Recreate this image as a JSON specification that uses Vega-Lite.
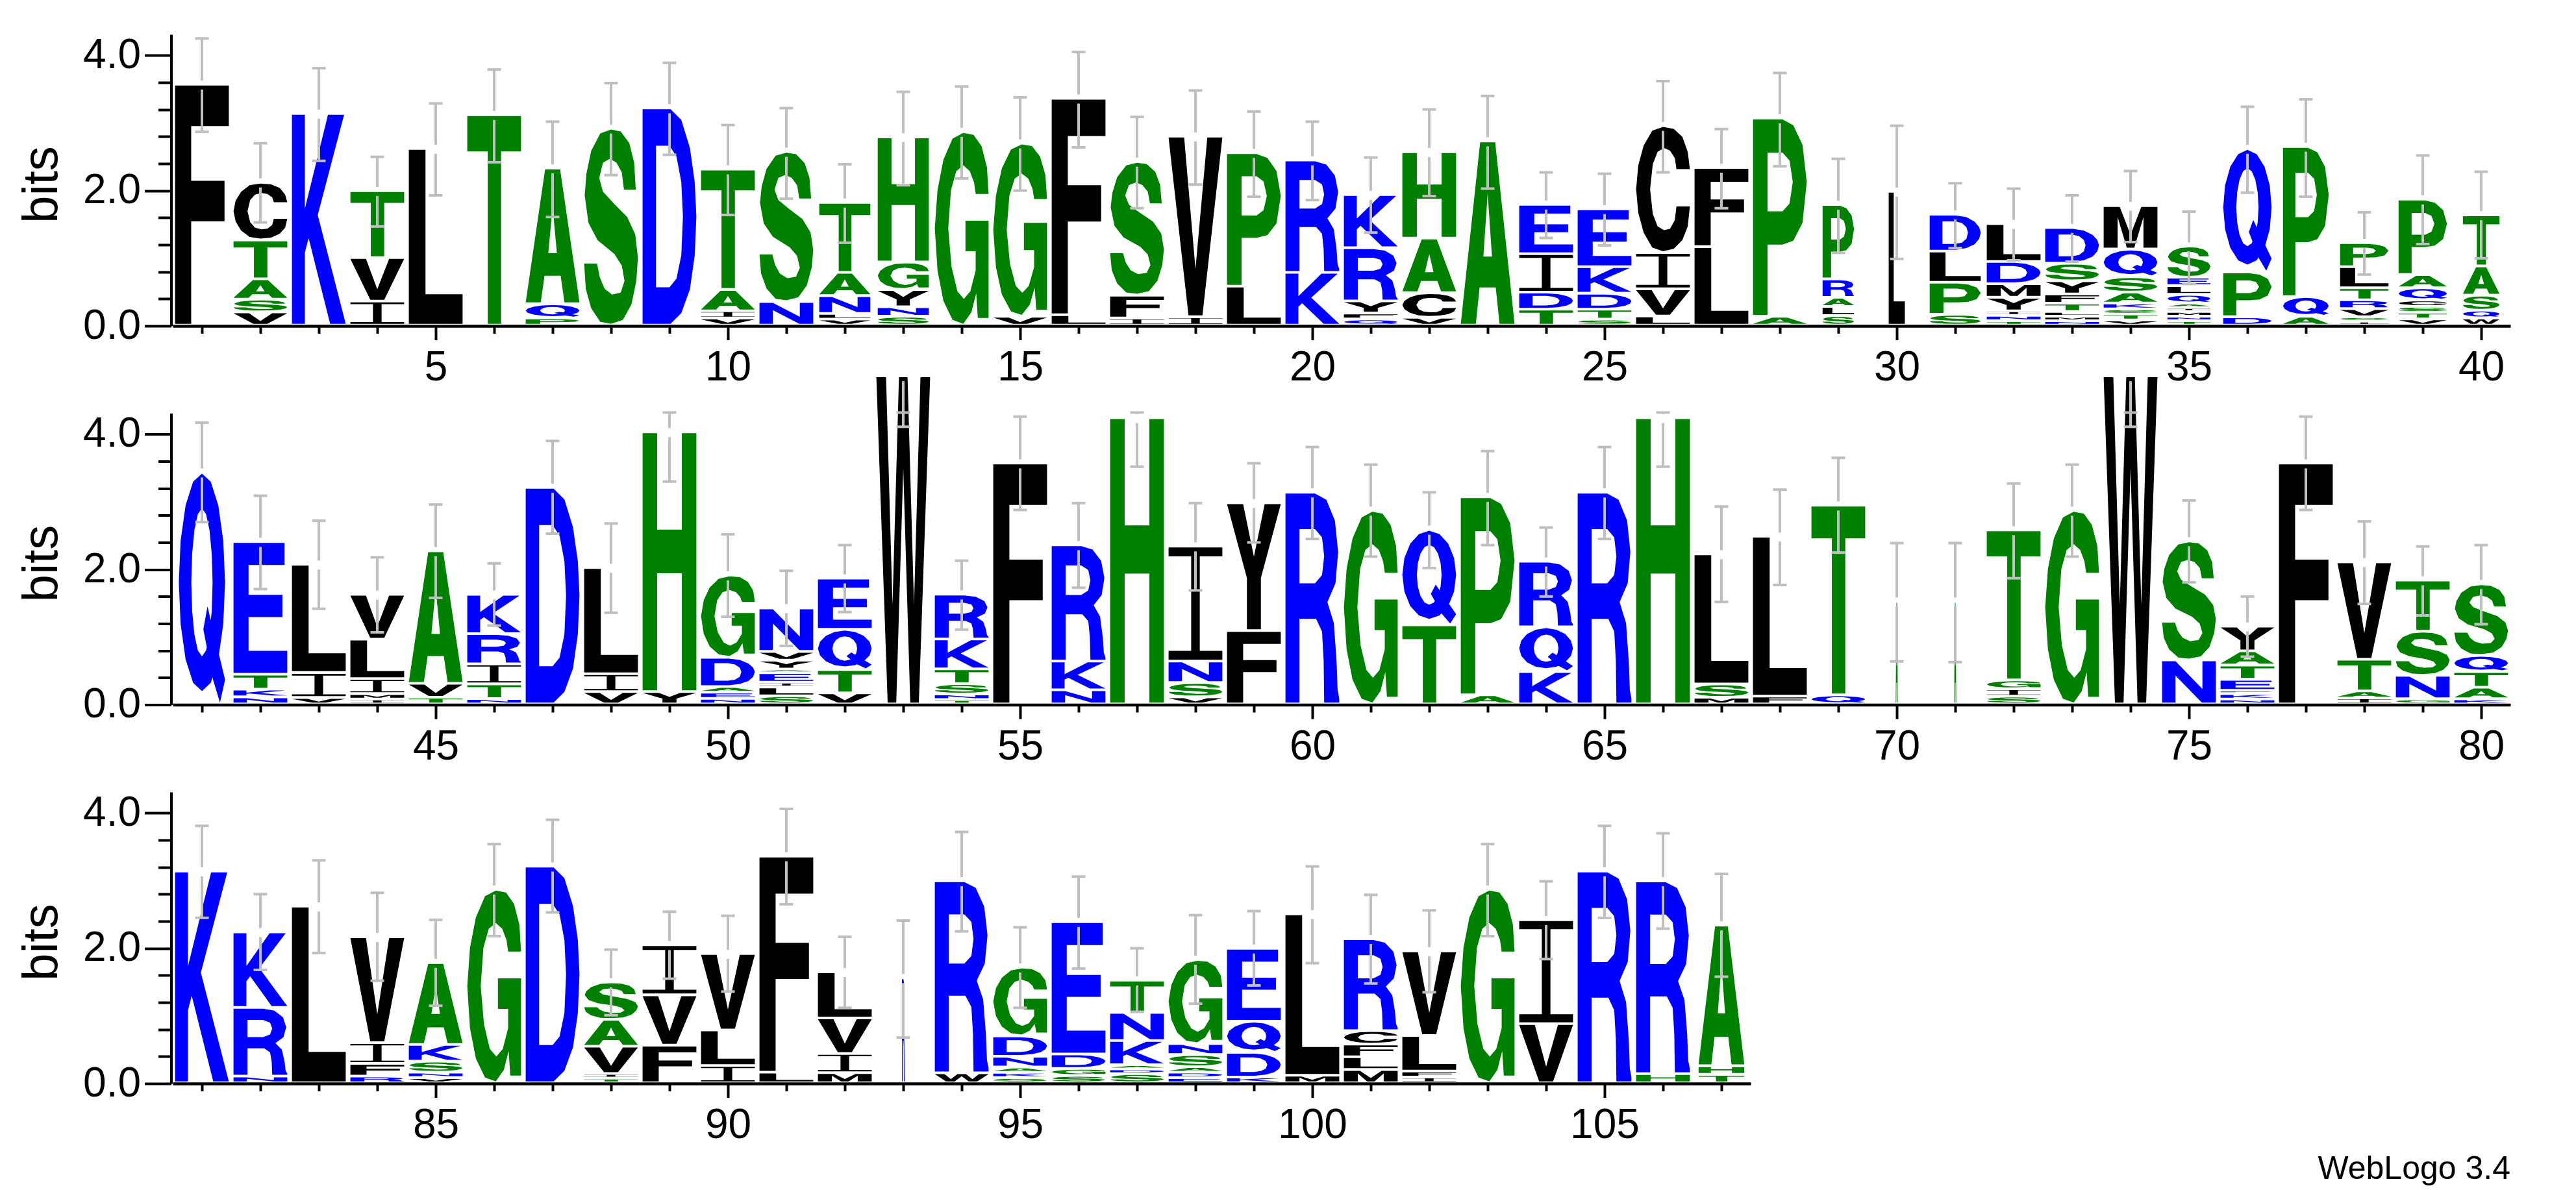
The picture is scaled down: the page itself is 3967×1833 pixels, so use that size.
{"$schema":"https://vega.github.io/schema/vega-lite/v6.json","background":"white","padding":{"left":26,"top":53,"right":10,"bottom":10},"config":{"font":"Liberation Sans","view":{"stroke":null},"axis":{"labelFont":"Liberation Sans","titleFont":"Liberation Sans"}},"title":{"text":"WebLogo 3.4","orient":"bottom","anchor":"end","font":"Liberation Sans","fontSize":50,"fontWeight":"normal","offset":10},"datasets":{"glyphs":[
{"l":"F","gx":[0,0,1,1,0.3,0.3,0.92,0.92,0.3,0.3],"gy":[0,1,1,0.83,0.83,0.6,0.6,0.43,0.43,0]},
{"l":"L","gx":[0,0,0.31,0.31,1,1],"gy":[0,1,1,0.17,0.17,0]},
{"l":"T","gx":[0,1,1,0.63,0.63,0.38,0.38,0],"gy":[1,1,0.83,0.83,0,0,0.83,0.83]},
{"l":"E","gx":[0,0,0.95,0.95,0.28,0.28,0.91,0.91,0.28,0.28,1,1],"gy":[0,1,1,0.83,0.83,0.6,0.6,0.43,0.43,0.17,0.17,0]},
{"l":"H","gx":[0,0,0.27,0.27,0.73,0.73,1,1,0.73,0.73,0.27,0.27],"gy":[0,1,1,0.625,0.625,1,1,0,0,0.455,0.455,0]},
{"l":"I","gx":[0,1,1,0.58,0.58,1,1,0,0,0.42,0.42,0],"gy":[1,1,0.92,0.92,0.08,0.08,0,0,0.08,0.08,0.92,0.92]},
{"l":"K","gx":[0,0,0.24,0.24,0.67,0.97,0.48,1,0.71,0.31,0.24,0.24],"gy":[0,1,1,0.55,1,1,0.52,0,0,0.41,0.34,0]},
{"l":"V","gx":[0,0.29,0.5,0.72,1,0.63,0.37],"gy":[1,1,0.26,1,1,0,0]},
{"l":"A","gx":[0,0.36,0.64,1,0.72,0.65,0.35,0.28,0,0.42,0.58,0.5,0.42,0],"gy":[0,1,1,0,0,0.2,0.2,0,0,0.37,0.37,0.72,0.37,0]},
{"l":"M","gx":[0,0,0.3,0.5,0.7,1,1,0.74,0.74,0.57,0.43,0.26,0.26],"gy":[0,1,1,0.32,1,1,0,0,0.75,0,0,0.75,0]},
{"l":"N","gx":[0,0,0.25,0.75,0.75,1,1,0.74,0.25,0.25],"gy":[0,1,1,0.33,1,1,0,0,0.65,0]},
{"l":"W","gx":[0.21,0,0.18,0.3,0.42,0.58,0.7,0.82,1,0.79,0.63,0.5,0.37],"gy":[0,1,1,0.3,1,1,0.3,1,1,0,0,0.72,0]},
{"l":"Y","gx":[0,0.3,0.5,0.7,1,0.63,0.63,0.37,0.37],"gy":[1,1,0.58,1,1,0.41,0,0,0.41]},
{"l":"Q","gx":[0.5,0.691,0.854,0.962,1,0.962,0.854,0.691,0.5,0.309,0.146,0.038,0,0.038,0.146,0.309,0.5,0.5,0.412,0.337,0.288,0.27,0.288,0.337,0.412,0.5,0.588,0.663,0.712,0.73,0.712,0.663,0.588,0.5,0.5,0.62,1,0.89,0.74,0.53,0.62,0.5],"gy":[1,0.964,0.861,0.706,0.525,0.344,0.189,0.086,0.05,0.086,0.189,0.344,0.525,0.706,0.861,0.964,1,0.848,0.823,0.753,0.649,0.525,0.4,0.297,0.227,0.202,0.227,0.297,0.4,0.525,0.649,0.753,0.823,0.848,1,0.42,0.1,0,0.1,0.32,0.42,1]},
{"l":"D","gx":[0,0,0.52,0.72,0.88,0.97,1,0.97,0.88,0.72,0.52,0,0.25,0.5,0.63,0.72,0.75,0.72,0.63,0.5,0.25,0.25,0],"gy":[0,1,1,0.95,0.82,0.66,0.5,0.32,0.16,0.05,0,0,0.17,0.17,0.21,0.32,0.5,0.66,0.78,0.83,0.83,0.17,0]},
{"l":"P","gx":[0,0,0.55,0.75,0.92,1,0.92,0.75,0.55,0.27,0.27,0,0.27,0.55,0.68,0.74,0.68,0.55,0.27,0.27,0],"gy":[0,1,1,0.97,0.87,0.68,0.47,0.38,0.36,0.36,0,0,0.53,0.53,0.57,0.68,0.79,0.83,0.83,0.53,0]},
{"l":"R","gx":[0,0,0.55,0.76,0.92,0.98,0.93,0.78,0.9,0.95,0.97,1,1,0.72,0.71,0.68,0.57,0.26,0.26,0,0.26,0.55,0.68,0.72,0.68,0.55,0.26,0.26,0],"gy":[0,1,1,0.97,0.87,0.72,0.57,0.48,0.38,0.2,0.06,0.02,0,0,0.2,0.34,0.4,0.4,0,0,0.57,0.57,0.61,0.7,0.79,0.83,0.83,0.57,0]},
{"l":"C","gx":[1,0.96,0.86,0.7,0.5,0.3,0.14,0.04,0,0.04,0.14,0.3,0.5,0.7,0.86,0.96,1,0.75,0.72,0.63,0.52,0.4,0.31,0.26,0.31,0.4,0.52,0.63,0.72,0.75],"gy":[0.66,0.8,0.92,0.985,1,0.97,0.85,0.69,0.5,0.31,0.15,0.03,0,0.02,0.09,0.2,0.36,0.36,0.25,0.18,0.17,0.2,0.3,0.5,0.7,0.8,0.83,0.81,0.75,0.66]},
{"l":"G","gx":[1,0.97,0.87,0.72,0.53,0.33,0.16,0.05,0,0.05,0.16,0.33,0.53,0.68,0.77,0.8,1,1,0.57,0.57,0.76,0.76,0.66,0.54,0.42,0.31,0.25,0.3,0.4,0.53,0.65,0.73,0.76],"gy":[0.68,0.82,0.93,0.99,1,0.97,0.86,0.7,0.5,0.28,0.12,0.02,0,0.06,0.16,0.03,0.03,0.54,0.54,0.38,0.38,0.28,0.17,0.13,0.17,0.3,0.5,0.7,0.8,0.83,0.8,0.74,0.68]},
{"l":"S","gx":[0.96,0.93,0.84,0.68,0.5,0.3,0.13,0.04,0.01,0.08,0.25,0.56,0.7,0.75,0.68,0.52,0.38,0.29,0.24,0,0.03,0.13,0.3,0.5,0.72,0.88,0.97,1,0.95,0.8,0.55,0.35,0.28,0.35,0.48,0.6,0.7,0.74],"gy":[0.69,0.83,0.93,0.99,1,0.98,0.89,0.77,0.66,0.52,0.43,0.36,0.3,0.22,0.16,0.15,0.18,0.24,0.31,0.31,0.18,0.08,0.01,0,0.02,0.1,0.22,0.34,0.46,0.55,0.62,0.68,0.75,0.83,0.85,0.83,0.78,0.69]}
],"cols":[
{"p":1,"w":1,"hi":4.25,"lo":2.87},{"p":2,"w":1,"hi":2.7,"lo":1.53},{"p":3,"w":1,"hi":3.81,"lo":2.44},{"p":4,"w":1,"hi":2.5,"lo":1.47},{"p":5,"w":1,"hi":3.29,"lo":1.93},{"p":6,"w":1,"hi":3.79,"lo":2.42},{"p":7,"w":1,"hi":3.02,"lo":1.61},{"p":8,"w":1,"hi":3.59,"lo":2.23},{"p":9,"w":1,"hi":3.89,"lo":2.53},{"p":10,"w":1,"hi":2.97,"lo":1.64},
{"p":11,"w":1,"hi":3.22,"lo":1.88},{"p":12,"w":0.95,"hi":2.39,"lo":1.23},{"p":13,"w":0.95,"hi":3.46,"lo":2.08},{"p":14,"w":1,"hi":3.54,"lo":2.18},{"p":15,"w":1,"hi":3.38,"lo":2},{"p":16,"w":1,"hi":4.05,"lo":2.64},{"p":17,"w":1,"hi":3.09,"lo":1.74},{"p":18,"w":1,"hi":3.48,"lo":2.09},{"p":19,"w":1,"hi":3.17,"lo":1.91},{"p":20,"w":1,"hi":3.02,"lo":1.86},
{"p":21,"w":1,"hi":2.49,"lo":1.38},{"p":22,"w":1,"hi":3.2,"lo":1.92},{"p":23,"w":1,"hi":3.4,"lo":2.03},{"p":24,"w":1,"hi":2.27,"lo":1.3},{"p":25,"w":1,"hi":2.25,"lo":1.19},{"p":26,"w":1,"hi":3.62,"lo":2.27},{"p":27,"w":1,"hi":2.91,"lo":1.74},{"p":28,"w":1,"hi":3.74,"lo":2.36},{"p":29,"w":0.585,"hi":2.47,"lo":1.08},{"p":30,"w":0.3,"hi":2.96,"lo":0.99},
{"p":31,"w":0.95,"hi":2.11,"lo":1.15},{"p":32,"w":1,"hi":2.03,"lo":0.97},{"p":33,"w":1,"hi":1.93,"lo":0.95},{"p":34,"w":1,"hi":2.29,"lo":1.24},{"p":35,"w":0.8,"hi":1.69,"lo":0.62},{"p":36,"w":0.9,"hi":3.24,"lo":1.97},{"p":37,"w":0.85,"hi":3.35,"lo":1.91},{"p":38,"w":0.9,"hi":1.68,"lo":0.76},{"p":39,"w":0.9,"hi":2.52,"lo":1.21},{"p":40,"w":0.68,"hi":2.28,"lo":1},
{"p":41,"w":0.86,"hi":4.17,"lo":2.7},{"p":42,"w":1,"hi":3.09,"lo":1.71},{"p":43,"w":1,"hi":2.72,"lo":1.42},{"p":44,"w":1,"hi":2.18,"lo":1.07},{"p":45,"w":1,"hi":2.96,"lo":1.58},{"p":46,"w":1,"hi":2.09,"lo":1.17},{"p":47,"w":1,"hi":3.9,"lo":2.53},{"p":48,"w":1,"hi":2.68,"lo":1.36},{"p":49,"w":1,"hi":4.32,"lo":3.3},{"p":50,"w":1,"hi":2.52,"lo":1.3},
{"p":51,"w":1,"hi":1.98,"lo":0.87},{"p":52,"w":1,"hi":2.36,"lo":1.37},{"p":53,"w":1,"hi":4.32,"lo":4.11},{"p":54,"w":1,"hi":2.13,"lo":1.11},{"p":55,"w":1,"hi":4.26,"lo":2.88},{"p":56,"w":1,"hi":2.98,"lo":1.73},{"p":57,"w":1,"hi":4.32,"lo":3.52},{"p":58,"w":1,"hi":2.98,"lo":1.69},{"p":59,"w":1,"hi":3.57,"lo":2.4},{"p":60,"w":1,"hi":3.81,"lo":2.45},
{"p":61,"w":1,"hi":3.55,"lo":2.19},{"p":62,"w":1,"hi":3.14,"lo":2.02},{"p":63,"w":1,"hi":3.75,"lo":2.36},{"p":64,"w":1,"hi":2.62,"lo":1.6},{"p":65,"w":1,"hi":3.81,"lo":2.45},{"p":66,"w":1,"hi":4.32,"lo":3.52},{"p":67,"w":1,"hi":2.93,"lo":1.52},{"p":68,"w":1,"hi":3.18,"lo":1.77},{"p":69,"w":1,"hi":3.65,"lo":2.25},{"p":70,"w":0.04,"hi":2.39,"lo":0.64},
{"p":71,"w":0.04,"hi":2.39,"lo":0.63},{"p":72,"w":1,"hi":3.27,"lo":1.87},{"p":73,"w":1,"hi":3.55,"lo":2.19},{"p":74,"w":1,"hi":4.32,"lo":4.11},{"p":75,"w":1,"hi":3.02,"lo":1.81},{"p":76,"w":1,"hi":1.6,"lo":0.71},{"p":77,"w":1,"hi":4.26,"lo":2.88},{"p":78,"w":1,"hi":2.71,"lo":1.49},{"p":79,"w":1,"hi":2.34,"lo":1.32},{"p":80,"w":1,"hi":2.36,"lo":1.19},
{"p":81,"w":1,"hi":3.81,"lo":2.45},{"p":82,"w":1,"hi":2.8,"lo":1.68},{"p":83,"w":1,"hi":3.3,"lo":1.93},{"p":84,"w":1,"hi":2.82,"lo":1.52},{"p":85,"w":1,"hi":2.42,"lo":1.15},{"p":86,"w":1,"hi":3.54,"lo":2.18},{"p":87,"w":1,"hi":3.9,"lo":2.53},{"p":88,"w":1,"hi":1.98,"lo":1.01},{"p":89,"w":1,"hi":2.54,"lo":1.55},{"p":90,"w":1,"hi":2.48,"lo":1.36},
{"p":91,"w":1,"hi":4.06,"lo":2.65},{"p":92,"w":1,"hi":2.17,"lo":1.12},{"p":93,"w":0.05,"hi":2.41,"lo":0.68},{"p":94,"w":1,"hi":3.72,"lo":2.25},{"p":95,"w":1,"hi":2.31,"lo":1.12},{"p":96,"w":1,"hi":3.06,"lo":1.7},{"p":97,"w":1,"hi":2,"lo":1.06},{"p":98,"w":1,"hi":2.49,"lo":1.18},{"p":99,"w":1,"hi":2.55,"lo":1.45},{"p":100,"w":1,"hi":3.21,"lo":1.78},
{"p":101,"w":1,"hi":2.79,"lo":1.48},{"p":102,"w":1,"hi":2.56,"lo":1.35},{"p":103,"w":1,"hi":3.54,"lo":2.18},{"p":104,"w":1,"hi":2.99,"lo":1.84},{"p":105,"w":1,"hi":3.81,"lo":2.45},{"p":106,"w":1,"hi":3.7,"lo":2.29},{"p":107,"w":0.85,"hi":3.1,"lo":1.58}
],"letters":[
{"p":1,"k":1,"l":"F","b":3.56},
{"p":2,"k":1,"l":"V","b":0.195},{"p":2,"k":2,"l":"S","b":0.188},{"p":2,"k":3,"l":"A","b":0.3},{"p":2,"k":4,"l":"T","b":0.575},{"p":2,"k":5,"l":"C","b":0.854},
{"p":3,"k":1,"l":"K","b":3.13},
{"p":4,"k":1,"l":"I","b":0.354},{"p":4,"k":2,"l":"V","b":0.643},{"p":4,"k":3,"l":"T","b":0.99},
{"p":5,"k":1,"l":"L","b":2.61},
{"p":6,"k":1,"l":"T","b":3.11},
{"p":7,"k":1,"l":"P","b":0.104},{"p":7,"k":2,"l":"Q","b":0.211},{"p":7,"k":3,"l":"A","b":2.006},
{"p":8,"k":1,"l":"S","b":2.91},
{"p":9,"k":1,"l":"D","b":3.21},
{"p":10,"k":1,"l":"V","b":0.104},{"p":10,"k":2,"l":"I","b":0.107},{"p":10,"k":3,"l":"A","b":0.315},{"p":10,"k":4,"l":"T","b":1.78},
{"p":11,"k":1,"l":"N","b":0.347},{"p":11,"k":2,"l":"S","b":2.22},
{"p":12,"k":1,"l":"V","b":0.088},{"p":12,"k":2,"l":"L","b":0.084},{"p":12,"k":3,"l":"N","b":0.263},{"p":12,"k":4,"l":"A","b":0.344},{"p":12,"k":5,"l":"T","b":1.036},
{"p":13,"k":1,"l":"S","b":0.13},{"p":13,"k":2,"l":"N","b":0.14},{"p":13,"k":3,"l":"Y","b":0.256},{"p":13,"k":4,"l":"G","b":0.406},{"p":13,"k":5,"l":"H","b":1.85},
{"p":14,"k":1,"l":"G","b":2.86},
{"p":15,"k":1,"l":"V","b":0.13},{"p":15,"k":2,"l":"G","b":2.56},
{"p":16,"k":1,"l":"L","b":0.153},{"p":16,"k":2,"l":"F","b":3.2},
{"p":17,"k":1,"l":"I","b":0.104},{"p":17,"k":2,"l":"F","b":0.338},{"p":17,"k":3,"l":"S","b":1.977},
{"p":18,"k":1,"l":"I","b":0.123},{"p":18,"k":2,"l":"V","b":2.67},
{"p":19,"k":1,"l":"L","b":0.575},{"p":19,"k":2,"l":"P","b":1.974},
{"p":20,"k":1,"l":"K","b":0.78},{"p":20,"k":2,"l":"R","b":1.66},
{"p":21,"k":1,"l":"Q","b":0.09},{"p":21,"k":2,"l":"F","b":0.088},{"p":21,"k":3,"l":"Y","b":0.179},{"p":21,"k":4,"l":"R","b":0.786},{"p":21,"k":5,"l":"K","b":0.786},
{"p":22,"k":1,"l":"V","b":0.114},{"p":22,"k":2,"l":"C","b":0.364},{"p":22,"k":3,"l":"A","b":0.808},{"p":22,"k":4,"l":"H","b":1.276},
{"p":23,"k":1,"l":"A","b":2.72},
{"p":24,"k":1,"l":"T","b":0.234},{"p":24,"k":2,"l":"D","b":0.253},{"p":24,"k":3,"l":"I","b":0.568},{"p":24,"k":4,"l":"E","b":0.73},
{"p":25,"k":1,"l":"S","b":0.088},{"p":25,"k":2,"l":"T","b":0.146},{"p":25,"k":3,"l":"D","b":0.237},{"p":25,"k":4,"l":"K","b":0.393},{"p":25,"k":5,"l":"E","b":0.854},
{"p":26,"k":1,"l":"L","b":0.133},{"p":26,"k":2,"l":"V","b":0.403},{"p":26,"k":3,"l":"I","b":0.536},{"p":26,"k":4,"l":"C","b":1.877},
{"p":27,"k":1,"l":"L","b":1.16},{"p":27,"k":2,"l":"F","b":1.17},
{"p":28,"k":1,"l":"A","b":0.13},{"p":28,"k":2,"l":"P","b":2.93},
{"p":29,"k":1,"l":"S","b":0.14},{"p":29,"k":2,"l":"L","b":0.136},{"p":29,"k":3,"l":"A","b":0.133},{"p":29,"k":4,"l":"R","b":0.273},{"p":29,"k":5,"l":"P","b":1.1},
{"p":30,"k":1,"l":"L","b":1.977},
{"p":31,"k":1,"l":"S","b":0.159},{"p":31,"k":2,"l":"P","b":0.474},{"p":31,"k":3,"l":"L","b":0.461},{"p":31,"k":4,"l":"D","b":0.545},
{"p":32,"k":1,"l":"T","b":0.065},{"p":32,"k":2,"l":"N","b":0.078},{"p":32,"k":3,"l":"I","b":0.068},{"p":32,"k":4,"l":"Y","b":0.2},{"p":32,"k":5,"l":"M","b":0.2},{"p":32,"k":6,"l":"D","b":0.33},{"p":32,"k":7,"l":"L","b":0.558},
{"p":33,"k":1,"l":"N","b":0.065},{"p":33,"k":2,"l":"M","b":0.065},{"p":33,"k":3,"l":"L","b":0.071},{"p":33,"k":4,"l":"T","b":0.123},{"p":33,"k":5,"l":"F","b":0.136},{"p":33,"k":6,"l":"Y","b":0.195},{"p":33,"k":7,"l":"S","b":0.26},{"p":33,"k":8,"l":"D","b":0.526},
{"p":34,"k":1,"l":"V","b":0.075},{"p":34,"k":2,"l":"T","b":0.088},{"p":34,"k":3,"l":"S","b":0.075},{"p":34,"k":4,"l":"K","b":0.088},{"p":34,"k":5,"l":"A","b":0.162},{"p":34,"k":6,"l":"S","b":0.227},{"p":34,"k":7,"l":"Q","b":0.409},{"p":34,"k":8,"l":"M","b":0.643},
{"p":35,"k":1,"l":"T","b":0.065},{"p":35,"k":2,"l":"N","b":0.065},{"p":35,"k":3,"l":"M","b":0.071},{"p":35,"k":4,"l":"I","b":0.058},{"p":35,"k":5,"l":"A","b":0.065},{"p":35,"k":6,"l":"Q","b":0.13},{"p":35,"k":7,"l":"L","b":0.13},{"p":35,"k":8,"l":"E","b":0.123},{"p":35,"k":9,"l":"S","b":0.461},
{"p":36,"k":1,"l":"D","b":0.123},{"p":36,"k":2,"l":"P","b":0.662},{"p":36,"k":3,"l":"Q","b":1.825},
{"p":37,"k":1,"l":"A","b":0.13},{"p":37,"k":2,"l":"Q","b":0.292},{"p":37,"k":3,"l":"P","b":2.218},
{"p":38,"k":1,"l":"I","b":0.058},{"p":38,"k":2,"l":"S","b":0.065},{"p":38,"k":3,"l":"V","b":0.12},{"p":38,"k":4,"l":"R","b":0.13},{"p":38,"k":5,"l":"T","b":0.179},{"p":38,"k":6,"l":"L","b":0.312},{"p":38,"k":7,"l":"P","b":0.354},
{"p":39,"k":1,"l":"V","b":0.091},{"p":39,"k":2,"l":"T","b":0.097},{"p":39,"k":3,"l":"S","b":0.088},{"p":39,"k":4,"l":"C","b":0.094},{"p":39,"k":5,"l":"Q","b":0.182},{"p":39,"k":6,"l":"A","b":0.195},{"p":39,"k":7,"l":"P","b":1.114},
{"p":40,"k":1,"l":"W","b":0.104},{"p":40,"k":2,"l":"Q","b":0.117},{"p":40,"k":3,"l":"S","b":0.221},{"p":40,"k":4,"l":"A","b":0.432},{"p":40,"k":5,"l":"T","b":0.756},
{"p":41,"k":1,"l":"Q","b":3.425},
{"p":42,"k":1,"l":"N","b":0.104},{"p":42,"k":2,"l":"K","b":0.114},{"p":42,"k":3,"l":"T","b":0.221},{"p":42,"k":4,"l":"E","b":1.96},
{"p":43,"k":1,"l":"V","b":0.094},{"p":43,"k":2,"l":"I","b":0.37},{"p":43,"k":3,"l":"L","b":1.6},
{"p":44,"k":1,"l":"I","b":0.071},{"p":44,"k":2,"l":"M","b":0.081},{"p":44,"k":3,"l":"I","b":0.221},{"p":44,"k":4,"l":"L","b":0.584},{"p":44,"k":5,"l":"V","b":0.662},
{"p":45,"k":1,"l":"T","b":0.097},{"p":45,"k":2,"l":"V","b":0.208},{"p":45,"k":3,"l":"A","b":1.958},
{"p":46,"k":1,"l":"N","b":0.078},{"p":46,"k":2,"l":"T","b":0.218},{"p":46,"k":3,"l":"I","b":0.295},{"p":46,"k":4,"l":"R","b":0.448},{"p":46,"k":5,"l":"K","b":0.581},
{"p":47,"k":1,"l":"D","b":3.2},
{"p":48,"k":1,"l":"V","b":0.182},{"p":48,"k":2,"l":"I","b":0.263},{"p":48,"k":3,"l":"L","b":1.57},
{"p":49,"k":1,"l":"Y","b":0.182},{"p":49,"k":2,"l":"H","b":3.84},
{"p":50,"k":1,"l":"N","b":0.081},{"p":50,"k":2,"l":"E","b":0.091},{"p":50,"k":3,"l":"A","b":0.084},{"p":50,"k":4,"l":"D","b":0.432},{"p":50,"k":5,"l":"G","b":1.217},
{"p":51,"k":1,"l":"S","b":0.12},{"p":51,"k":2,"l":"L","b":0.13},{"p":51,"k":3,"l":"I","b":0.071},{"p":51,"k":4,"l":"E","b":0.14},{"p":51,"k":5,"l":"A","b":0.055},{"p":51,"k":6,"l":"Y","b":0.13},{"p":51,"k":7,"l":"V","b":0.13},{"p":51,"k":8,"l":"N","b":0.643},
{"p":52,"k":1,"l":"V","b":0.162},{"p":52,"k":2,"l":"T","b":0.344},{"p":52,"k":3,"l":"Q","b":0.597},{"p":52,"k":4,"l":"E","b":0.756},
{"p":53,"k":1,"l":"W","b":4.85},
{"p":54,"k":1,"l":"T","b":0.065},{"p":54,"k":2,"l":"N","b":0.081},{"p":54,"k":3,"l":"S","b":0.153},{"p":54,"k":4,"l":"T","b":0.218},{"p":54,"k":5,"l":"K","b":0.442},{"p":54,"k":6,"l":"R","b":0.662},
{"p":55,"k":1,"l":"F","b":3.56},
{"p":56,"k":1,"l":"N","b":0.208},{"p":56,"k":2,"l":"K","b":0.425},{"p":56,"k":3,"l":"R","b":1.718},
{"p":57,"k":1,"l":"H","b":4.23},
{"p":58,"k":1,"l":"V","b":0.104},{"p":58,"k":2,"l":"S","b":0.211},{"p":58,"k":3,"l":"N","b":0.318},{"p":58,"k":4,"l":"I","b":1.7},
{"p":59,"k":1,"l":"F","b":1.084},{"p":59,"k":2,"l":"Y","b":1.89},
{"p":60,"k":1,"l":"R","b":3.13},
{"p":61,"k":1,"l":"G","b":2.86},
{"p":62,"k":1,"l":"T","b":1.169},{"p":62,"k":2,"l":"Q","b":1.41},
{"p":63,"k":1,"l":"A","b":0.133},{"p":63,"k":2,"l":"P","b":2.93},
{"p":64,"k":1,"l":"K","b":0.477},{"p":64,"k":2,"l":"Q","b":0.662},{"p":64,"k":3,"l":"R","b":0.97},
{"p":65,"k":1,"l":"R","b":3.13},
{"p":66,"k":1,"l":"H","b":4.23},
{"p":67,"k":1,"l":"M","b":0.097},{"p":67,"k":2,"l":"S","b":0.198},{"p":67,"k":3,"l":"L","b":1.922},
{"p":68,"k":1,"l":"F","b":0.114},{"p":68,"k":2,"l":"L","b":2.364},
{"p":69,"k":1,"l":"Q","b":0.133},{"p":69,"k":2,"l":"T","b":2.805},
{"p":70,"k":1,"l":"A","b":1.516},
{"p":71,"k":1,"l":"A","b":1.516},
{"p":72,"k":1,"l":"S","b":0.114},{"p":72,"k":2,"l":"I","b":0.11},{"p":72,"k":3,"l":"G","b":0.13},{"p":72,"k":4,"l":"T","b":2.218},
{"p":73,"k":1,"l":"G","b":2.86},
{"p":74,"k":1,"l":"W","b":4.85},
{"p":75,"k":1,"l":"N","b":0.649},{"p":75,"k":2,"l":"S","b":1.76},
{"p":76,"k":1,"l":"N","b":0.071},{"p":76,"k":2,"l":"K","b":0.081},{"p":76,"k":3,"l":"E","b":0.049},{"p":76,"k":4,"l":"E","b":0.162},{"p":76,"k":5,"l":"T","b":0.211},{"p":76,"k":6,"l":"A","b":0.211},{"p":76,"k":7,"l":"Y","b":0.364},
{"p":77,"k":1,"l":"F","b":3.56},
{"p":78,"k":1,"l":"I","b":0.088},{"p":78,"k":2,"l":"A","b":0.104},{"p":78,"k":3,"l":"T","b":0.468},{"p":78,"k":4,"l":"V","b":1.44},
{"p":79,"k":1,"l":"G","b":0.075},{"p":79,"k":2,"l":"N","b":0.347},{"p":79,"k":3,"l":"S","b":0.653},{"p":79,"k":4,"l":"T","b":0.756},
{"p":80,"k":1,"l":"K","b":0.075},{"p":80,"k":2,"l":"A","b":0.172},{"p":80,"k":3,"l":"T","b":0.23},{"p":80,"k":4,"l":"Q","b":0.24},{"p":80,"k":5,"l":"S","b":1.058},
{"p":81,"k":1,"l":"K","b":3.13},
{"p":82,"k":1,"l":"N","b":0.097},{"p":82,"k":2,"l":"R","b":1.016},{"p":82,"k":3,"l":"K","b":1.117},
{"p":83,"k":1,"l":"L","b":2.61},
{"p":84,"k":1,"l":"R","b":0.097},{"p":84,"k":2,"l":"F","b":0.188},{"p":84,"k":3,"l":"I","b":0.308},{"p":84,"k":4,"l":"V","b":1.565},
{"p":85,"k":1,"l":"V","b":0.075},{"p":85,"k":2,"l":"N","b":0.081},{"p":85,"k":3,"l":"S","b":0.162},{"p":85,"k":4,"l":"K","b":0.247},{"p":85,"k":5,"l":"A","b":1.21},
{"p":86,"k":1,"l":"G","b":2.86},
{"p":87,"k":1,"l":"D","b":3.2},
{"p":88,"k":1,"l":"T","b":0.068},{"p":88,"k":2,"l":"I","b":0.068},{"p":88,"k":3,"l":"V","b":0.403},{"p":88,"k":4,"l":"A","b":0.396},{"p":88,"k":5,"l":"S","b":0.555},
{"p":89,"k":1,"l":"F","b":0.555},{"p":89,"k":2,"l":"V","b":0.744},{"p":89,"k":3,"l":"I","b":0.74},
{"p":90,"k":1,"l":"I","b":0.253},{"p":90,"k":2,"l":"L","b":0.526},{"p":90,"k":3,"l":"V","b":1.13},
{"p":91,"k":1,"l":"L","b":0.156},{"p":91,"k":2,"l":"F","b":3.195},
{"p":92,"k":1,"l":"M","b":0.149},{"p":92,"k":2,"l":"I","b":0.282},{"p":92,"k":3,"l":"V","b":0.526},{"p":92,"k":4,"l":"L","b":0.682},
{"p":93,"k":1,"l":"R","b":1.55},
{"p":94,"k":1,"l":"W","b":0.146},{"p":94,"k":2,"l":"R","b":2.838},
{"p":95,"k":1,"l":"S","b":0.075},{"p":95,"k":2,"l":"K","b":0.078},{"p":95,"k":3,"l":"A","b":0.078},{"p":95,"k":4,"l":"N","b":0.159},{"p":95,"k":5,"l":"D","b":0.302},{"p":95,"k":6,"l":"G","b":1.016},
{"p":96,"k":1,"l":"S","b":0.107},{"p":96,"k":2,"l":"G","b":0.104},{"p":96,"k":3,"l":"D","b":0.214},{"p":96,"k":4,"l":"E","b":1.955},
{"p":97,"k":1,"l":"S","b":0.133},{"p":97,"k":2,"l":"D","b":0.071},{"p":97,"k":3,"l":"A","b":0.062},{"p":97,"k":4,"l":"K","b":0.357},{"p":97,"k":5,"l":"N","b":0.416},{"p":97,"k":6,"l":"T","b":0.477},
{"p":98,"k":1,"l":"E","b":0.075},{"p":98,"k":2,"l":"D","b":0.081},{"p":98,"k":3,"l":"A","b":0.081},{"p":98,"k":4,"l":"S","b":0.179},{"p":98,"k":5,"l":"N","b":0.162},{"p":98,"k":6,"l":"G","b":1.244},
{"p":99,"k":1,"l":"K","b":0.084},{"p":99,"k":2,"l":"D","b":0.364},{"p":99,"k":3,"l":"Q","b":0.461},{"p":99,"k":4,"l":"E","b":1.078},
{"p":100,"k":1,"l":"M","b":0.11},{"p":100,"k":2,"l":"L","b":2.386},
{"p":101,"k":1,"l":"M","b":0.195},{"p":101,"k":2,"l":"L","b":0.188},{"p":101,"k":3,"l":"F","b":0.188},{"p":101,"k":4,"l":"C","b":0.198},{"p":101,"k":5,"l":"R","b":1.36},
{"p":102,"k":1,"l":"I","b":0.084},{"p":102,"k":2,"l":"F","b":0.088},{"p":102,"k":3,"l":"L","b":0.526},{"p":102,"k":4,"l":"V","b":1.25},
{"p":103,"k":1,"l":"G","b":2.86},
{"p":104,"k":1,"l":"V","b":0.873},{"p":104,"k":2,"l":"I","b":1.536},
{"p":105,"k":1,"l":"R","b":3.13},
{"p":106,"k":1,"l":"H","b":0.133},{"p":106,"k":2,"l":"R","b":2.85},
{"p":107,"k":1,"l":"T","b":0.123},{"p":107,"k":2,"l":"H","b":0.127},{"p":107,"k":3,"l":"A","b":2.08}
]},"vconcat":[
{"width":3600,"height":449,"layer":[
{"data":{"name":"letters"},"transform":[{"filter":"datum.p<=40"},{"stack":"b","groupby":["p"],"sort":[{"field":"k"}],"as":["y0","y1"]},{"lookup":"p","from":{"data":{"name":"cols"},"key":"p","fields":["w"]}},{"lookup":"l","from":{"data":{"name":"glyphs"},"key":"l","fields":["gx","gy"]}},{"flatten":["gx","gy"]},{"window":[{"op":"row_number","as":"vi"}]},{"calculate":"datum.p+(datum.gx-0.5)*0.92*datum.w","as":"x"},{"calculate":"0.032+datum.y0+datum.gy*(datum.y1-datum.y0-0.039)","as":"y"}],
"mark":{"type":"line","filled":true,"strokeWidth":0},
"encoding":{"x":{"field":"x","type":"quantitative","scale":{"domain":[0.5,40.5],"nice":false,"zero":false},"axis":{"values":[1,2,3,4,5,6,7,8,9,10,11,12,13,14,15,16,17,18,19,20,21,22,23,24,25,26,27,28,29,30,31,32,33,34,35,36,37,38,39,40],"title":null,"grid":false,"domainColor":"black","domainWidth":4.5,"tickColor":"black","tickWidth":4,"tickSize":{"condition":{"test":"datum.value%5==0","value":21.6},"value":11.5},"labelExpr":"datum.value%5==0?datum.value:''","labelOverlap":false,"labelFontSize":64,"labelColor":"black","labelPadding":11,"labelFlush":false}},
"y":{"field":"y","type":"quantitative","scale":{"domain":[0,4.31],"nice":false,"zero":false},"axis":{"values":[0,0.2,0.4,0.6,0.8,1,1.2,1.4,1.6,1.8,2,2.2,2.4,2.6,2.8,3,3.2,3.4,3.6,3.8,4,4.2],"title":"bits","titleFontSize":76,"titleFontWeight":"normal","titleColor":"black","titleX":-160,"titleY":231,"grid":false,"offset":2.5,"domainColor":"black","domainWidth":4,"tickColor":"black","tickWidth":4,"tickSize":{"condition":{"test":"datum.value%1==0","value":41},"value":20},"labelExpr":"datum.value%1==0?format(datum.value,'.1f'):''","labelOverlap":false,"labelFontSize":64,"labelColor":"black","labelPadding":6,"labelFlush":false}},
"detail":[{"field":"p"},{"field":"k"}],"order":{"field":"vi","type":"quantitative"},
"fill":{"field":"l","type":"nominal","legend":null,"scale":{"domain":["C","F","I","L","M","V","W","Y","A","G","H","P","S","T","D","E","K","N","Q","R"],"range":["#000000","#000000","#000000","#000000","#000000","#000000","#000000","#000000","#008000","#008000","#008000","#008000","#008000","#008000","#0000ff","#0000ff","#0000ff","#0000ff","#0000ff","#0000ff"]}}}},
{"data":{"name":"letters"},"transform":[{"filter":"datum.p<=40"},{"aggregate":[{"op":"sum","field":"b","as":"total"}],"groupby":["p"]},{"lookup":"p","from":{"data":{"name":"cols"},"key":"p","fields":["hi","lo"]}},{"calculate":"datum.total-0.007+0.075","as":"up"},{"calculate":"datum.total-0.007-0.058","as":"dn"}],
"layer":[
{"transform":[{"filter":"datum.hi>datum.up"}],"mark":{"type":"rule","color":"#bfbfbf","strokeWidth":4},"encoding":{"x":{"field":"p","type":"quantitative"},"y":{"field":"hi","type":"quantitative"},"y2":{"field":"up"}}},
{"mark":{"type":"rule","color":"#bfbfbf","strokeWidth":4},"encoding":{"x":{"field":"p","type":"quantitative"},"y":{"field":"dn","type":"quantitative"},"y2":{"field":"lo"}}},
{"mark":{"type":"tick","orient":"horizontal","color":"#bfbfbf","size":21,"thickness":4,"opacity":1},"encoding":{"x":{"field":"p","type":"quantitative"},"y":{"field":"hi","type":"quantitative"}}},
{"mark":{"type":"tick","orient":"horizontal","color":"#bfbfbf","size":21,"thickness":4,"opacity":1},"encoding":{"x":{"field":"p","type":"quantitative"},"y":{"field":"lo","type":"quantitative"}}}
]}
]},
{"width":3600,"height":449,"layer":[
{"data":{"name":"letters"},"transform":[{"filter":"datum.p>40&&datum.p<=80"},{"stack":"b","groupby":["p"],"sort":[{"field":"k"}],"as":["y0","y1"]},{"lookup":"p","from":{"data":{"name":"cols"},"key":"p","fields":["w"]}},{"lookup":"l","from":{"data":{"name":"glyphs"},"key":"l","fields":["gx","gy"]}},{"flatten":["gx","gy"]},{"window":[{"op":"row_number","as":"vi"}]},{"calculate":"datum.p+(datum.gx-0.5)*0.92*datum.w","as":"x"},{"calculate":"0.032+datum.y0+datum.gy*(datum.y1-datum.y0-0.039)","as":"y"}],
"mark":{"type":"line","filled":true,"strokeWidth":0},
"encoding":{"x":{"field":"x","type":"quantitative","scale":{"domain":[40.5,80.5],"nice":false,"zero":false},"axis":{"values":[41,42,43,44,45,46,47,48,49,50,51,52,53,54,55,56,57,58,59,60,61,62,63,64,65,66,67,68,69,70,71,72,73,74,75,76,77,78,79,80],"title":null,"grid":false,"domainColor":"black","domainWidth":4.5,"tickColor":"black","tickWidth":4,"tickSize":{"condition":{"test":"datum.value%5==0","value":21.6},"value":11.5},"labelExpr":"datum.value%5==0?datum.value:''","labelOverlap":false,"labelFontSize":64,"labelColor":"black","labelPadding":11,"labelFlush":false}},
"y":{"field":"y","type":"quantitative","scale":{"domain":[0,4.31],"nice":false,"zero":false},"axis":{"values":[0,0.2,0.4,0.6,0.8,1,1.2,1.4,1.6,1.8,2,2.2,2.4,2.6,2.8,3,3.2,3.4,3.6,3.8,4,4.2],"title":"bits","titleFontSize":76,"titleFontWeight":"normal","titleColor":"black","titleX":-160,"titleY":231,"grid":false,"offset":2.5,"domainColor":"black","domainWidth":4,"tickColor":"black","tickWidth":4,"tickSize":{"condition":{"test":"datum.value%1==0","value":41},"value":20},"labelExpr":"datum.value%1==0?format(datum.value,'.1f'):''","labelOverlap":false,"labelFontSize":64,"labelColor":"black","labelPadding":6,"labelFlush":false}},
"detail":[{"field":"p"},{"field":"k"}],"order":{"field":"vi","type":"quantitative"},
"fill":{"field":"l","type":"nominal","legend":null,"scale":{"domain":["C","F","I","L","M","V","W","Y","A","G","H","P","S","T","D","E","K","N","Q","R"],"range":["#000000","#000000","#000000","#000000","#000000","#000000","#000000","#000000","#008000","#008000","#008000","#008000","#008000","#008000","#0000ff","#0000ff","#0000ff","#0000ff","#0000ff","#0000ff"]}}}},
{"data":{"name":"letters"},"transform":[{"filter":"datum.p>40&&datum.p<=80"},{"aggregate":[{"op":"sum","field":"b","as":"total"}],"groupby":["p"]},{"lookup":"p","from":{"data":{"name":"cols"},"key":"p","fields":["hi","lo"]}},{"calculate":"datum.total-0.007+0.075","as":"up"},{"calculate":"datum.total-0.007-0.058","as":"dn"}],
"layer":[
{"transform":[{"filter":"datum.hi>datum.up"}],"mark":{"type":"rule","color":"#bfbfbf","strokeWidth":4},"encoding":{"x":{"field":"p","type":"quantitative"},"y":{"field":"hi","type":"quantitative"},"y2":{"field":"up"}}},
{"mark":{"type":"rule","color":"#bfbfbf","strokeWidth":4},"encoding":{"x":{"field":"p","type":"quantitative"},"y":{"field":"dn","type":"quantitative"},"y2":{"field":"lo"}}},
{"mark":{"type":"tick","orient":"horizontal","color":"#bfbfbf","size":21,"thickness":4,"opacity":1},"encoding":{"x":{"field":"p","type":"quantitative"},"y":{"field":"hi","type":"quantitative"}}},
{"mark":{"type":"tick","orient":"horizontal","color":"#bfbfbf","size":21,"thickness":4,"opacity":1},"encoding":{"x":{"field":"p","type":"quantitative"},"y":{"field":"lo","type":"quantitative"}}}
]}
]},
{"width":2430,"height":449,"layer":[
{"data":{"name":"letters"},"transform":[{"filter":"datum.p>80"},{"stack":"b","groupby":["p"],"sort":[{"field":"k"}],"as":["y0","y1"]},{"lookup":"p","from":{"data":{"name":"cols"},"key":"p","fields":["w"]}},{"lookup":"l","from":{"data":{"name":"glyphs"},"key":"l","fields":["gx","gy"]}},{"flatten":["gx","gy"]},{"window":[{"op":"row_number","as":"vi"}]},{"calculate":"datum.p+(datum.gx-0.5)*0.92*datum.w","as":"x"},{"calculate":"0.032+datum.y0+datum.gy*(datum.y1-datum.y0-0.039)","as":"y"}],
"mark":{"type":"line","filled":true,"strokeWidth":0},
"encoding":{"x":{"field":"x","type":"quantitative","scale":{"domain":[80.5,107.5],"nice":false,"zero":false},"axis":{"values":[81,82,83,84,85,86,87,88,89,90,91,92,93,94,95,96,97,98,99,100,101,102,103,104,105,106,107],"title":null,"grid":false,"domainColor":"black","domainWidth":4.5,"tickColor":"black","tickWidth":4,"tickSize":{"condition":{"test":"datum.value%5==0","value":21.6},"value":11.5},"labelExpr":"datum.value%5==0?datum.value:''","labelOverlap":false,"labelFontSize":64,"labelColor":"black","labelPadding":11,"labelFlush":false}},
"y":{"field":"y","type":"quantitative","scale":{"domain":[0,4.31],"nice":false,"zero":false},"axis":{"values":[0,0.2,0.4,0.6,0.8,1,1.2,1.4,1.6,1.8,2,2.2,2.4,2.6,2.8,3,3.2,3.4,3.6,3.8,4,4.2],"title":"bits","titleFontSize":76,"titleFontWeight":"normal","titleColor":"black","titleX":-160,"titleY":231,"grid":false,"offset":2.5,"domainColor":"black","domainWidth":4,"tickColor":"black","tickWidth":4,"tickSize":{"condition":{"test":"datum.value%1==0","value":41},"value":20},"labelExpr":"datum.value%1==0?format(datum.value,'.1f'):''","labelOverlap":false,"labelFontSize":64,"labelColor":"black","labelPadding":6,"labelFlush":false}},
"detail":[{"field":"p"},{"field":"k"}],"order":{"field":"vi","type":"quantitative"},
"fill":{"field":"l","type":"nominal","legend":null,"scale":{"domain":["C","F","I","L","M","V","W","Y","A","G","H","P","S","T","D","E","K","N","Q","R"],"range":["#000000","#000000","#000000","#000000","#000000","#000000","#000000","#000000","#008000","#008000","#008000","#008000","#008000","#008000","#0000ff","#0000ff","#0000ff","#0000ff","#0000ff","#0000ff"]}}}},
{"data":{"name":"letters"},"transform":[{"filter":"datum.p>80"},{"aggregate":[{"op":"sum","field":"b","as":"total"}],"groupby":["p"]},{"lookup":"p","from":{"data":{"name":"cols"},"key":"p","fields":["hi","lo"]}},{"calculate":"datum.total-0.007+0.075","as":"up"},{"calculate":"datum.total-0.007-0.058","as":"dn"}],
"layer":[
{"transform":[{"filter":"datum.hi>datum.up"}],"mark":{"type":"rule","color":"#bfbfbf","strokeWidth":4},"encoding":{"x":{"field":"p","type":"quantitative"},"y":{"field":"hi","type":"quantitative"},"y2":{"field":"up"}}},
{"mark":{"type":"rule","color":"#bfbfbf","strokeWidth":4},"encoding":{"x":{"field":"p","type":"quantitative"},"y":{"field":"dn","type":"quantitative"},"y2":{"field":"lo"}}},
{"mark":{"type":"tick","orient":"horizontal","color":"#bfbfbf","size":21,"thickness":4,"opacity":1},"encoding":{"x":{"field":"p","type":"quantitative"},"y":{"field":"hi","type":"quantitative"}}},
{"mark":{"type":"tick","orient":"horizontal","color":"#bfbfbf","size":21,"thickness":4,"opacity":1},"encoding":{"x":{"field":"p","type":"quantitative"},"y":{"field":"lo","type":"quantitative"}}}
]}
]}
],"spacing":134.5,"bounds":"flush"}
